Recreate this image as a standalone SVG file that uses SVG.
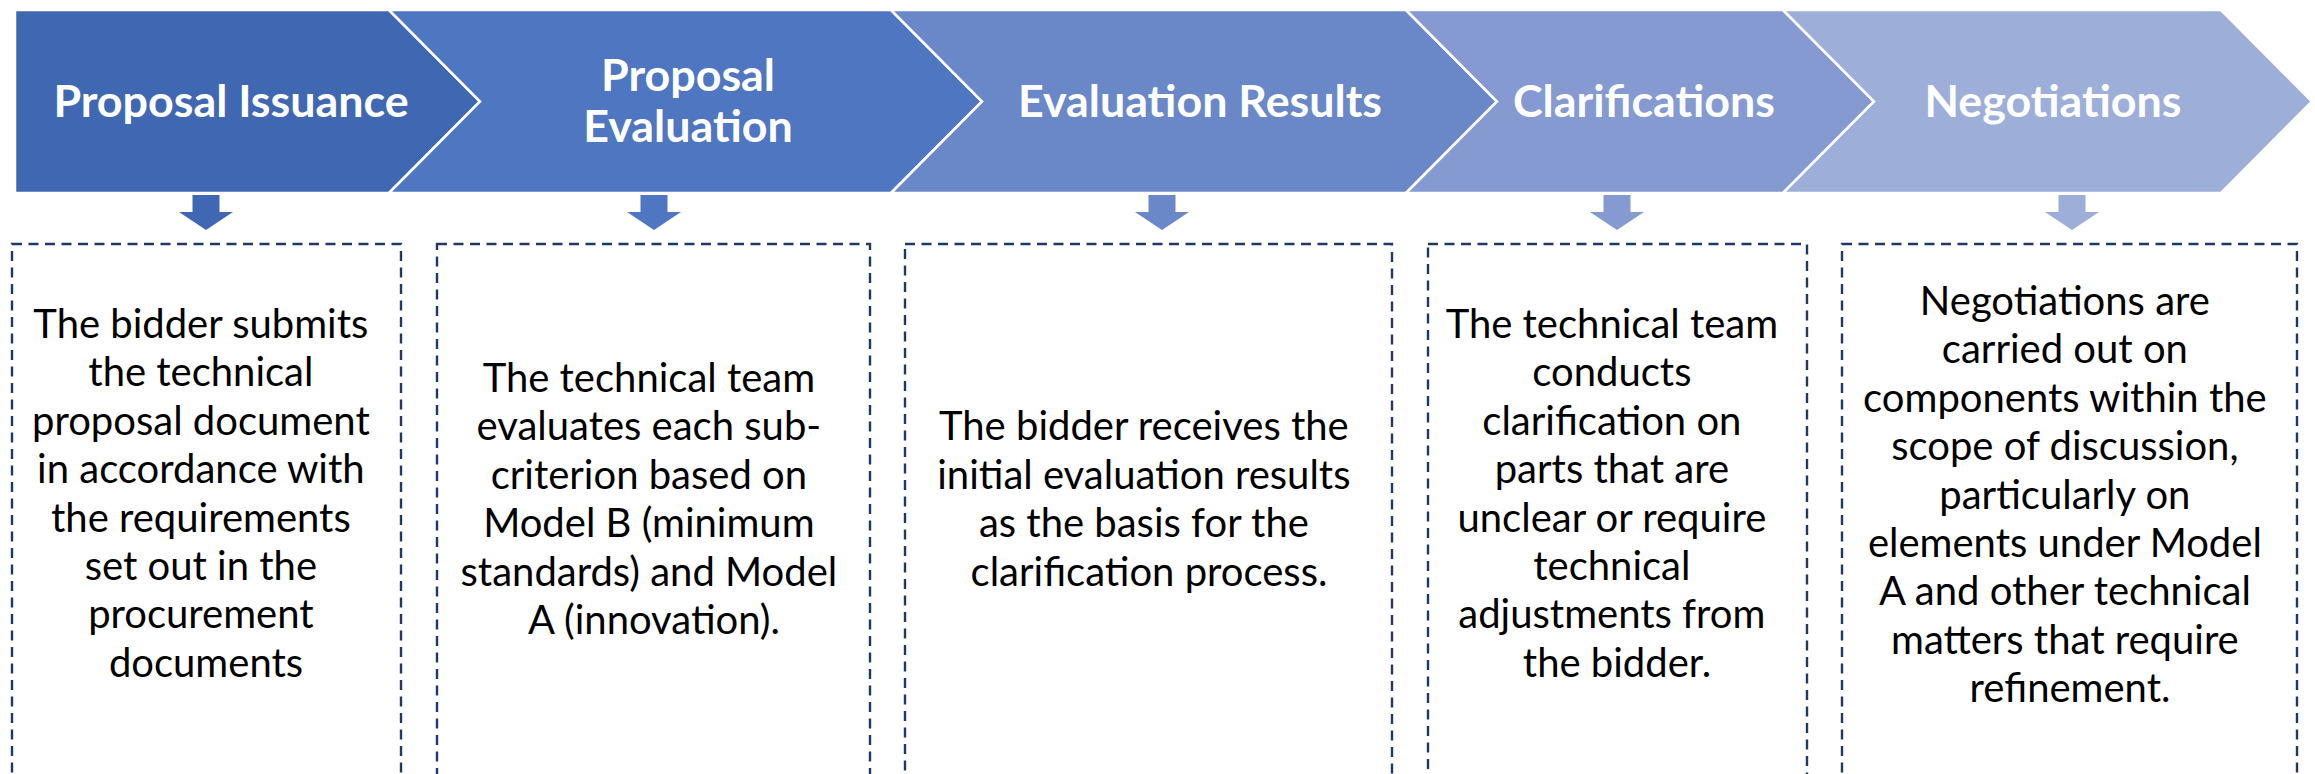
<svg xmlns="http://www.w3.org/2000/svg" width="2315" height="774" viewBox="0 0 2315 774">
  <defs>
    <style>
      .step { stroke: #FFFFFF; stroke-width: 2.5; stroke-linejoin: miter; }
      .title { font-family: Lato, "Liberation Sans", sans-serif; font-weight: 700; font-size: 44.8px; fill: #FFFFFF; text-anchor: middle; }
      .card { fill: none; stroke: #1F3864; stroke-width: 2.4; stroke-dasharray: 10 6.5; }
      .body { font-family: Lato, "Liberation Sans", sans-serif; font-size: 40px; fill: #000000; text-anchor: middle; }
    </style>
  </defs>
  <rect width="2315" height="774" fill="#FFFFFF"/>

  <!-- process chevrons -->
  <g id="step-issuance">
    <path class="step" fill="#4068B2" d="M15,10 L389,10 L480,101.5 L389,193 L15,193 Z"/>
    <text class="title" x="231" y="117">Proposal Issuance</text>
  </g>
  <g id="step-evaluation">
    <path class="step" fill="#4F76C0" d="M389,10 L891,10 L982,101.5 L891,193 L389,193 L480,101.5 Z"/>
    <text class="title" x="688" y="91">Proposal</text>
    <text class="title" x="688" y="142">Evaluation</text>
  </g>
  <g id="step-results">
    <path class="step" fill="#6A88C7" d="M891,10 L1406,10 L1497,101.5 L1406,193 L891,193 L982,101.5 Z"/>
    <text class="title" x="1200" y="117">Evaluation Results</text>
  </g>
  <g id="step-clarifications">
    <path class="step" fill="#849AD0" d="M1406,10 L1783,10 L1874,101.5 L1783,193 L1406,193 L1497,101.5 Z"/>
    <text class="title" x="1644" y="117">Clarifications</text>
  </g>
  <g id="step-negotiations">
    <path class="step" fill="#9DAED8" d="M1783,10 L2221,10 L2312,101.5 L2221,193 L1783,193 L1874,101.5 Z"/>
    <text class="title" x="2053" y="117">Negotiations</text>
  </g>

  <!-- down arrows from each step to its description -->
  <g id="connectors">
    <path fill="#4068B2" d="M192.5,195 L219.5,195 L219.5,212 L233,212 L206,230 L179,212 L192.5,212 Z"/>
    <path fill="#4F76C0" d="M640.5,195 L667.5,195 L667.5,212 L681,212 L654,230 L627,212 L640.5,212 Z"/>
    <path fill="#6A88C7" d="M1148.5,195 L1175.5,195 L1175.5,212 L1189,212 L1162,230 L1135,212 L1148.5,212 Z"/>
    <path fill="#849AD0" d="M1603.5,195 L1630.5,195 L1630.5,212 L1644,212 L1617,230 L1590,212 L1603.5,212 Z"/>
    <path fill="#9DAED8" d="M2058.5,195 L2085.5,195 L2085.5,212 L2099,212 L2072,230 L2045,212 L2058.5,212 Z"/>
  </g>

  <!-- description cards -->
  <g id="card-issuance">
    <rect class="card" x="12" y="244" width="389" height="560"/>
    <text class="body">
      <tspan x="206" y="338">The bidder submits</tspan>
      <tspan x="206" y="386">the technical</tspan>
      <tspan x="206" y="435">proposal document</tspan>
      <tspan x="206" y="483">in accordance with</tspan>
      <tspan x="206" y="532">the requirements</tspan>
      <tspan x="206" y="580">set out in the</tspan>
      <tspan x="206" y="628">procurement</tspan>
      <tspan x="206" y="677">documents</tspan>
    </text>
  </g>
  <g id="card-evaluation">
    <rect class="card" x="437" y="244" width="433" height="560"/>
    <text class="body">
      <tspan x="654" y="392">The technical team</tspan>
      <tspan x="654" y="440">evaluates each sub-</tspan>
      <tspan x="654" y="489">criterion based on</tspan>
      <tspan x="654" y="537">Model B (minimum</tspan>
      <tspan x="654" y="586">standards) and Model</tspan>
      <tspan x="654" y="634">A (innovation).</tspan>
    </text>
  </g>
  <g id="card-results">
    <rect class="card" x="905" y="244" width="487" height="560"/>
    <text class="body">
      <tspan x="1149" y="440">The bidder receives the</tspan>
      <tspan x="1149" y="489">initial evaluation results</tspan>
      <tspan x="1149" y="537">as the basis for the</tspan>
      <tspan x="1149" y="586">clarification process.</tspan>
    </text>
  </g>
  <g id="card-clarifications">
    <rect class="card" x="1428" y="244" width="379" height="560"/>
    <text class="body">
      <tspan x="1617" y="338">The technical team</tspan>
      <tspan x="1617" y="386">conducts</tspan>
      <tspan x="1617" y="435">clarification on</tspan>
      <tspan x="1617" y="483">parts that are</tspan>
      <tspan x="1617" y="532">unclear or require</tspan>
      <tspan x="1617" y="580">technical</tspan>
      <tspan x="1617" y="628">adjustments from</tspan>
      <tspan x="1617" y="677">the bidder.</tspan>
    </text>
  </g>
  <g id="card-negotiations">
    <rect class="card" x="1842" y="244" width="455" height="560"/>
    <text class="body">
      <tspan x="2070" y="315">Negotiations are</tspan>
      <tspan x="2070" y="363">carried out on</tspan>
      <tspan x="2070" y="412">components within the</tspan>
      <tspan x="2070" y="460">scope of discussion,</tspan>
      <tspan x="2070" y="509">particularly on</tspan>
      <tspan x="2070" y="557">elements under Model</tspan>
      <tspan x="2070" y="605">A and other technical</tspan>
      <tspan x="2070" y="654">matters that require</tspan>
      <tspan x="2070" y="702">refinement.</tspan>
    </text>
  </g>
</svg>
